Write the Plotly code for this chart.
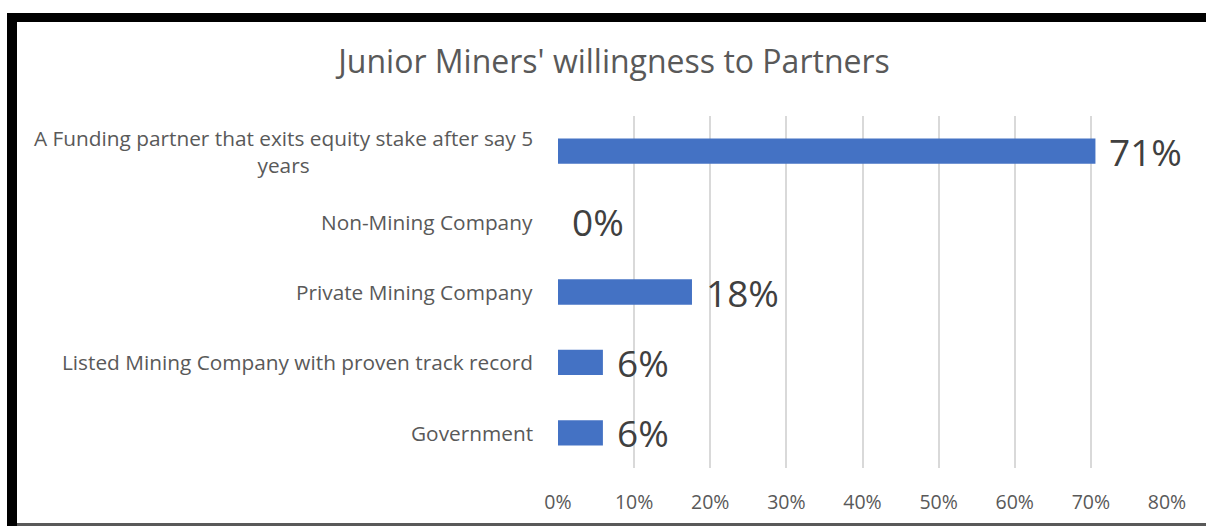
import plotly.graph_objects as go

title_text = "Junior Miners' willingness to Partners"
categories = [
    "A Funding partner that exits equity stake after say 5<br>years",
    "Non-Mining Company",
    "Private Mining Company",
    "Listed Mining Company with proven track record",
    "Government",
]
values = [0.706, 0.0, 0.176, 0.059, 0.059]
value_labels = ["71%", "0%", "18%", "6%", "6%"]
tick_vals = [0, 0.1, 0.2, 0.3, 0.4, 0.5, 0.6, 0.7, 0.8]
tick_text = ["0%", "10%", "20%", "30%", "40%", "50%", "60%", "70%", "80%"]

W, H = 1206, 526
# plot area in page pixel coordinates
L, R, T, B = 558, 1167, 116, 468

def px_x(px):
    return (px - L) / (R - L)

def px_y(py):
    return (B - py) / (B - T)

FONT = "Open Sans"
GRAY = "#595959"

fig = go.Figure()
fig.add_trace(go.Bar(
    x=values, y=categories, orientation="h",
    marker=dict(color="#4472C4", line=dict(width=0)),
    hoverinfo="skip",
))

annotations = []
for c in categories:
    annotations.append(dict(
        x=0, xref="paper", y=c, yref="y", text=c, showarrow=False,
        xanchor="right", yanchor="middle", align="center", xshift=-23,
        font=dict(family=FONT, size=20.8, color=GRAY),
    ))
for c, v, t in zip(categories, values, value_labels):
    annotations.append(dict(
        x=v, xref="x", y=c, yref="y", text=t, showarrow=False,
        xanchor="left", yanchor="middle", xshift=12,
        font=dict(family=FONT, size=37, color="#404040"),
    ))

shapes = [
    dict(type="rect", xref="paper", yref="paper",
         x0=px_x(7), x1=px_x(1215), y0=px_y(22), y1=px_y(13),
         fillcolor="black", line=dict(width=0), layer="above"),
    dict(type="rect", xref="paper", yref="paper",
         x0=px_x(7), x1=px_x(17), y0=px_y(530), y1=px_y(13),
         fillcolor="black", line=dict(width=0), layer="above"),
    dict(type="rect", xref="paper", yref="paper",
         x0=px_x(17), x1=px_x(1215), y0=px_y(530), y1=px_y(523),
         fillcolor="#595959", line=dict(width=0), layer="above"),
]

fig.update_layout(
    width=W, height=H,
    margin=dict(l=L, r=W - R, t=T, b=H - B, pad=0),
    paper_bgcolor="white", plot_bgcolor="white",
    showlegend=False,
    bargap=0.64,
    title=dict(text=title_text, x=614 / W, xref="container", xanchor="center",
               y=1 - 62 / H, yanchor="middle",
               font=dict(family=FONT, size=32, color=GRAY)),
    xaxis=dict(range=[0, 0.8], tickvals=tick_vals, ticktext=tick_text,
               showgrid=True, gridcolor="#D9D9D9", gridwidth=2,
               zeroline=False, showline=False, ticks="", ticklabelstandoff=20,
               tickfont=dict(family=FONT, size=19.5, color=GRAY)),
    yaxis=dict(autorange="reversed", showticklabels=False, showgrid=False,
               zeroline=False, showline=False),
    annotations=annotations,
    shapes=shapes,
)

fig.write_html(
    "out.html",
    config={"displayModeBar": False},
    post_script="document.body.style.margin='0';document.body.style.overflow='hidden';",
)
